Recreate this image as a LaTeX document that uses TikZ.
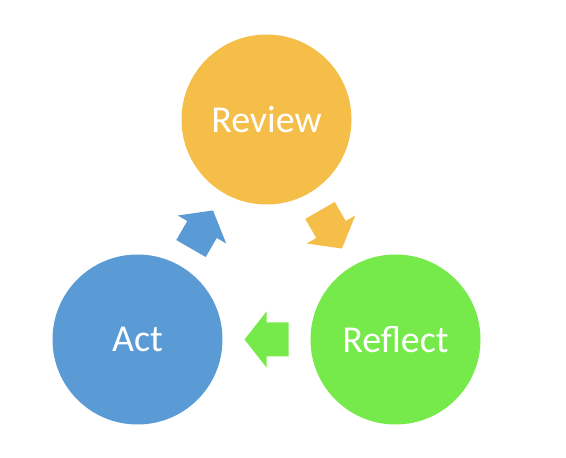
\documentclass[tikz,border=0pt]{standalone}
\usepackage{fontspec}
\setmainfont{Carlito}
\usetikzlibrary{calc}
\definecolor{reviewcol}{HTML}{F5BE48}
\definecolor{actcol}{HTML}{5B9BD5}
\definecolor{reflectcol}{HTML}{76E94B}
\tikzset{
  stage/.style={circle,minimum size=170pt,inner sep=0pt,text=white,
    font=\fontsize{38}{44}\selectfont},
}
\newcommand{\cyclearrow}[3]{%
  % centre, rotation, fill colour; tip points along +x before rotating.
  \fill[#3,shift={(#1)},rotate=#2]
    (22,0) -- (0,28) -- (0,17) -- (-22,17) -- (-22,-17) -- (0,-17) -- (0,-28) -- cycle;
}
\begin{document}
\begin{tikzpicture}[x=1pt,y=1pt]
  \useasboundingbox (0,0) rectangle (566,458);
  \node[stage,fill=reviewcol] (review) at (266.5,338.5) {Review};
  \node[stage,fill=actcol] (act) at (137.5,118.5) {Act};
  \node[stage,fill=reflectcol] (reflect) at (395.5,118.5) {Reflect};
  % arrows sit halfway between the circles
  \coordinate (mid1) at ($(act)!0.5!(review)$);
  \coordinate (mid2) at ($(review)!0.5!(reflect)$);
  \coordinate (mid3) at ($(reflect)!0.5!(act)$);
  \cyclearrow{mid1}{60}{actcol}
  \cyclearrow{mid2}{-60}{reviewcol}
  \cyclearrow{mid3}{180}{reflectcol}
\end{tikzpicture}
\end{document}
